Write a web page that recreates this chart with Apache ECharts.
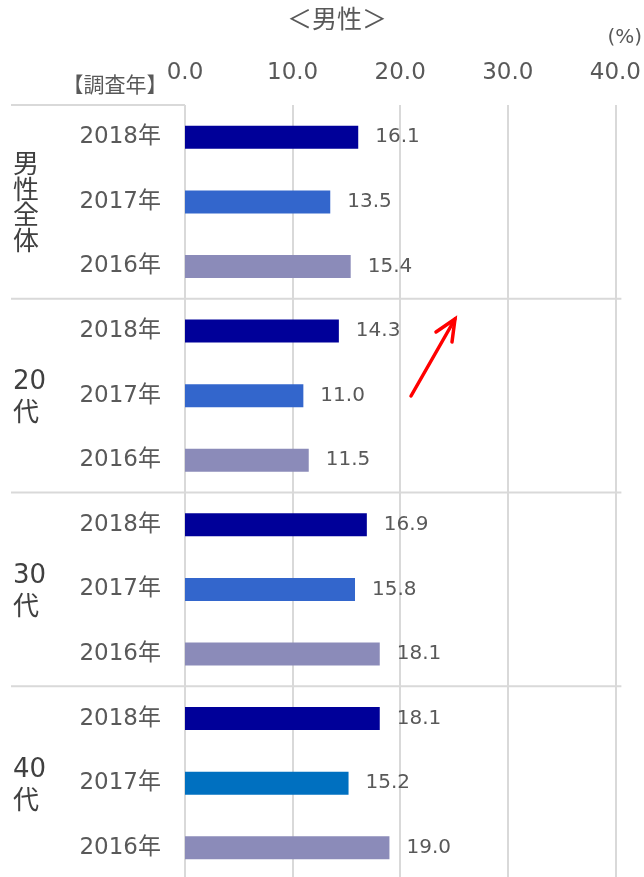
<!DOCTYPE html>
<html>
<head>
<meta charset="utf-8">
<script src="https://cdn.jsdelivr.net/npm/echarts@6/dist/echarts.min.js"></script>
<style>
html,body{margin:0;padding:0;background:#fff;overflow:hidden;}
#main{width:644px;height:880px;}
</style>
</head>
<body>
<div id="main"></div>
<script>
// ---- data ----
const groups = ['男性全体', '20代', '30代', '40代'];
const groupLabels = ['男\n性\n全\n体', '20\n代', '30\n代', '40\n代'];
const years = ['2018年', '2017年', '2016年'];
const values2018 = [16.1, 14.3, 16.9, 18.1];
const values2017 = [13.5, 11.0, 15.8, 15.2];
const values2016 = [15.4, 11.5, 18.1, 19.0];
const xTicks = [0, 10, 20, 30, 40];

const yearColors = ['#000099', '#3366CC', '#8B8BB9'];
const special2017_40 = '#0070C0';

const FONT = '"DejaVu Sans", "Noto Sans CJK JP", sans-serif';
const TXT = '#595959';
const GRID = '#d9d9d9';

const categories = [];
const values = [];
const byYear = [values2018, values2017, values2016];
groups.forEach((g, gi) => {
  years.forEach((y, yi) => {
    categories.push(g + '|' + y);
    values.push(byYear[yi][gi]);
  });
});

const chart = echarts.init(document.getElementById('main'));
const option = {
  backgroundColor: '#fff',
  animation: false,
  grid: { left: 185, right: 27, top: 105, bottom: 0, containLabel: false },
  xAxis: {
    type: 'value', position: 'top',
    min: xTicks[0], max: xTicks[xTicks.length - 1], interval: 10,
    axisLine: { show: false }, axisTick: { show: false },
    axisLabel: { fontFamily: FONT, fontSize: 23, color: TXT, margin: 20,
      formatter: v => v.toFixed(1) },
    splitLine: { show: true, lineStyle: { color: GRID, width: 2 } }
  },
  yAxis: {
    type: 'category', inverse: true, data: categories,
    axisLine: { show: false }, axisTick: { show: false },
    axisLabel: { fontFamily: FONT, fontSize: 23, color: TXT, margin: 24,
      formatter: v => v.split('|')[1] },
    splitLine: { show: false }
  },
  series: [{
    type: 'bar', data: values, barWidth: 23,
    itemStyle: {
      color: p => {
        const yi = p.dataIndex % 3, gi = Math.floor(p.dataIndex / 3);
        if (gi === 3 && yi === 1) return special2017_40;
        return yearColors[yi];
      }
    },
    label: { show: true, position: 'right', distance: 17, fontFamily: FONT,
      fontSize: 20, color: TXT, formatter: p => p.value.toFixed(1) }
  }],
  graphic: []
};
chart.setOption(option);

// decorations computed from the axes
const ys = categories.map(c => chart.convertToPixel({ yAxisIndex: 0 }, c));
const band = ys[1] - ys[0];
const x0 = chart.convertToPixel({ xAxisIndex: 0 }, 0);
const xMax = chart.convertToPixel({ xAxisIndex: 0 }, 40);
const g = [];
const topY = ys[0] - band / 2;
g.push({ type: 'line', shape: { x1: 11, y1: topY, x2: x0, y2: topY },
  style: { stroke: GRID, lineWidth: 2 } });
for (let i = 1; i < groups.length; i++) {
  const yb = (ys[i * 3 - 1] + ys[i * 3]) / 2;
  g.push({ type: 'line', shape: { x1: 11, y1: yb, x2: xMax + 6, y2: yb },
    style: { stroke: GRID, lineWidth: 2 }, z: 1 });
}
groups.forEach((gname, gi) => {
  const cy = ys[gi * 3 + 1];
  const first = gi === 0;
  g.push({ type: 'text', x: 13, y: cy + (first ? 3 : 3),
    style: { text: groupLabels[gi], fontFamily: FONT, fontSize: 26,
      lineHeight: first ? 25.5 : 32, fill: '#404040',
      textAlign: 'left', textVerticalAlign: 'middle' } });
});
// title, unit, header
g.push({ type: 'text', x: 337, y: 21, style: { text: '＜男性＞', fontFamily: FONT,
  fontSize: 25, fill: TXT, textAlign: 'center', textVerticalAlign: 'middle' } });
g.push({ type: 'text', x: 642, y: 38, style: { text: '(%)', fontFamily: FONT,
  fontSize: 20, fill: TXT, textAlign: 'right', textVerticalAlign: 'middle' } });
g.push({ type: 'text', x: 115, y: 87, style: { text: '【調査年】', fontFamily: FONT,
  fontSize: 21, fill: TXT, textAlign: 'center', textVerticalAlign: 'middle' } });
// red arrow annotation
g.push({ type: 'polyline', shape: { points: [[411, 396], [455, 319]] },
  style: { stroke: '#ff0000', lineWidth: 3.5, lineCap: 'round' }, z: 10 });
g.push({ type: 'polyline', shape: { points: [[436, 332], [455, 319], [452, 342]] },
  style: { stroke: '#ff0000', lineWidth: 3.5, lineCap: 'round', lineJoin: 'miter', fill: null }, z: 10 });
chart.setOption({ graphic: g });
</script>
</body>
</html>
